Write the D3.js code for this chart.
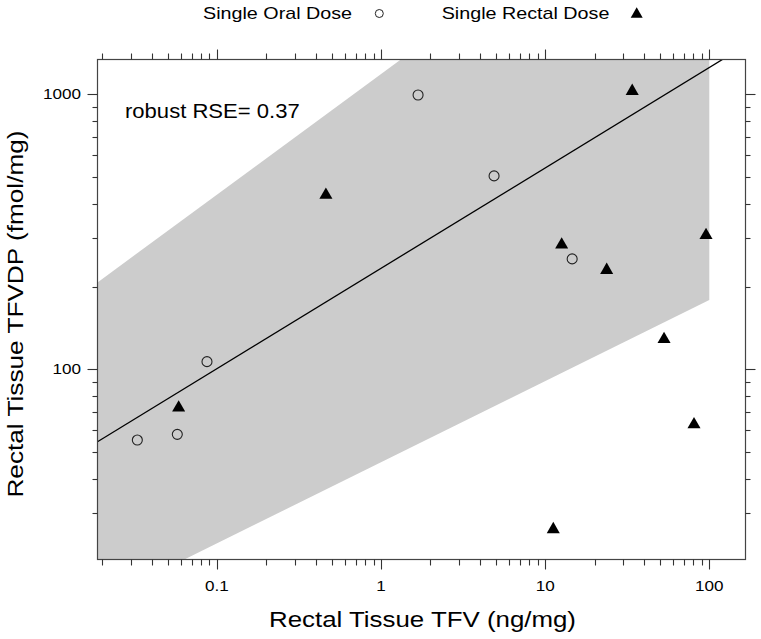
<!DOCTYPE html>
<html>
<head>
<meta charset="utf-8">
<script src="https://cdn.jsdelivr.net/npm/d3@7/dist/d3.min.js"></script>
<style>
  html, body { margin: 0; padding: 0; background: #fff; }
  svg { display: block; font-family: "Liberation Sans", Arial, sans-serif; }
</style>
</head>
<body>
<svg id="chart" width="761" height="639"></svg>
<script>
// ---- data ----
const oralX = [0.0327, 0.0573, 0.0869, 1.68, 4.88, 14.6];
const oralY = [55.3, 58.0, 106.6, 994, 505, 252];
const rectalX = [0.0584, 0.461, 33.9, 12.6, 23.7, 95.5, 53.0, 80.7, 11.2];
const rectalY = [73.6, 437, 1043, 288, 233, 312, 130.7, 64.0, 26.6];
// robust fit on log10 scale: log10(y) = intercept + slope*log10(x)
const fitIntercept = 2.3673;
const fitSlope = 0.365;
// prediction band (data units)
const bandX = [0.0187, 100];
const bandUpper = [207, 8930];
const bandLower = [14.2, 178.8];
const xTickLabels = [0.1, 1, 10, 100];
const yTickLabels = [100, 1000];
const legendLabels = ["Single Oral Dose", "Single Rectal Dose"];
const rseText = "robust RSE= 0.37";

// ---- layout ----
const L = 97.5, R = 745.5, T = 59.5, B = 559.5;
const svg = d3.select("#chart");
const x = d3.scaleLog().domain([0.0187, 166.2]).range([L, R]);
const y = d3.scaleLog().domain([20.34, 1338]).range([B, T]);

// text in the reference is horizontally wider than Liberation Sans
function stretch(sel, k) {
  sel.each(function () {
    const w = this.getComputedTextLength();
    d3.select(this).attr("textLength", w * k).attr("lengthAdjust", "spacingAndGlyphs");
  });
  return sel;
}

svg.append("defs").append("clipPath").attr("id", "clip")
  .append("rect").attr("x", L).attr("y", T).attr("width", R - L).attr("height", B - T);

const plot = svg.append("g").attr("clip-path", "url(#clip)");

// band
const bandPts = [
  [bandX[0], bandUpper[0]], [bandX[1], bandUpper[1]],
  [bandX[1], bandLower[1]], [bandX[0], bandLower[0]]
];
plot.append("path")
  .attr("d", d3.line().x(d => x(d[0])).y(d => y(d[1]))(bandPts) + "Z")
  .attr("fill", "#cccccc").attr("stroke", "none");

// fit line
const xd = x.domain();
const lineData = xd.map(v => [v, Math.pow(10, fitIntercept + fitSlope * Math.log10(v))]);
plot.append("path")
  .attr("d", d3.line().x(d => x(d[0])).y(d => y(d[1]))(lineData))
  .attr("fill", "none").attr("stroke", "#000").attr("stroke-width", 1.3);

// points
const oral = oralX.map((v, i) => ({x: v, y: oralY[i]}));
const rectal = rectalX.map((v, i) => ({x: v, y: rectalY[i]}));
plot.selectAll("circle.oral").data(oral).enter().append("circle")
  .attr("class", "oral")
  .attr("cx", d => x(d.x)).attr("cy", d => y(d.y)).attr("r", 5)
  .attr("fill", "none").attr("stroke", "#222").attr("stroke-width", 1.1);
const tri = d3.symbol().type(d3.symbolTriangle).size(74);
plot.selectAll("path.rectal").data(rectal).enter().append("path")
  .attr("class", "rectal")
  .attr("d", tri)
  .attr("transform", d => `translate(${x(d.x)},${y(d.y) + 1.9})`)
  .attr("fill", "#000");

// frame
svg.append("rect").attr("x", L).attr("y", T).attr("width", R - L).attr("height", B - T)
  .attr("fill", "none").attr("stroke", "#444").attr("stroke-width", 1.2);

// ticks
const xMinor = [];
for (let e = -2; e <= 2; e++) for (let m = 1; m <= 9; m++) {
  const v = m * Math.pow(10, e);
  if (v >= xd[0] && v <= xd[1]) xMinor.push(v);
}
const yd = y.domain();
const yMinor = [];
for (let e = 1; e <= 3; e++) for (let m = 1; m <= 9; m++) {
  const v = m * Math.pow(10, e);
  if (v >= yd[0] && v <= yd[1]) yMinor.push(v);
}
const isMajor = v => Math.abs(Math.log10(v) - Math.round(Math.log10(v))) < 1e-9;
const tickG = svg.append("g").attr("stroke", "#333").attr("stroke-width", 1.1);
xMinor.forEach(v => {
  const len = isMajor(v) ? 10 : 6;
  const px = Math.round(x(v)) + 0.5;
  tickG.append("line").attr("x1", px).attr("x2", px).attr("y1", B).attr("y2", B + len);
  tickG.append("line").attr("x1", px).attr("x2", px).attr("y1", T).attr("y2", T - len);
});
yMinor.forEach(v => {
  const len = isMajor(v) ? 10 : 5;
  const py = Math.round(y(v)) + 0.5;
  tickG.append("line").attr("x1", L).attr("x2", L - len).attr("y1", py).attr("y2", py);
  tickG.append("line").attr("x1", R).attr("x2", R + len).attr("y1", py).attr("y2", py);
});

// tick labels
stretch(svg.append("g").selectAll("text").data(xTickLabels).enter().append("text")
  .attr("x", d => x(d)).attr("y", 591)
  .attr("text-anchor", "middle").attr("font-size", 15).attr("fill", "#000")
  .text(d => String(d)), 1.14);
stretch(svg.append("g").selectAll("text").data(yTickLabels).enter().append("text")
  .attr("x", 81).attr("y", d => y(d) + 5)
  .attr("text-anchor", "end").attr("font-size", 15).attr("fill", "#000")
  .text(d => String(d)), 1.14);

// axis titles
stretch(svg.append("text").attr("x", 422.5).attr("y", 627)
  .attr("text-anchor", "middle").attr("font-size", 22).text("Rectal Tissue TFV (ng/mg)"), 1.175);
stretch(svg.append("text").attr("transform", "translate(23,314) rotate(-90)")
  .attr("text-anchor", "middle").attr("font-size", 22).text("Rectal Tissue TFVDP (fmol/mg)"), 1.19);

// annotation
stretch(svg.append("text").attr("x", 125).attr("y", 118).attr("font-size", 21).text(rseText), 1.05);

// legend
stretch(svg.append("text").attr("x", 203).attr("y", 18.5).attr("font-size", 17).text(legendLabels[0]), 1.16);
svg.append("circle").attr("cx", 379.3).attr("cy", 13.5).attr("r", 4)
  .attr("fill", "none").attr("stroke", "#222").attr("stroke-width", 1);
stretch(svg.append("text").attr("x", 441.7).attr("y", 18.5).attr("font-size", 17).text(legendLabels[1]), 1.16);
svg.append("path").attr("d", d3.symbol().type(d3.symbolTriangle).size(62))
  .attr("transform", "translate(636.7,14.2)").attr("fill", "#000");
</script>
</body>
</html>
